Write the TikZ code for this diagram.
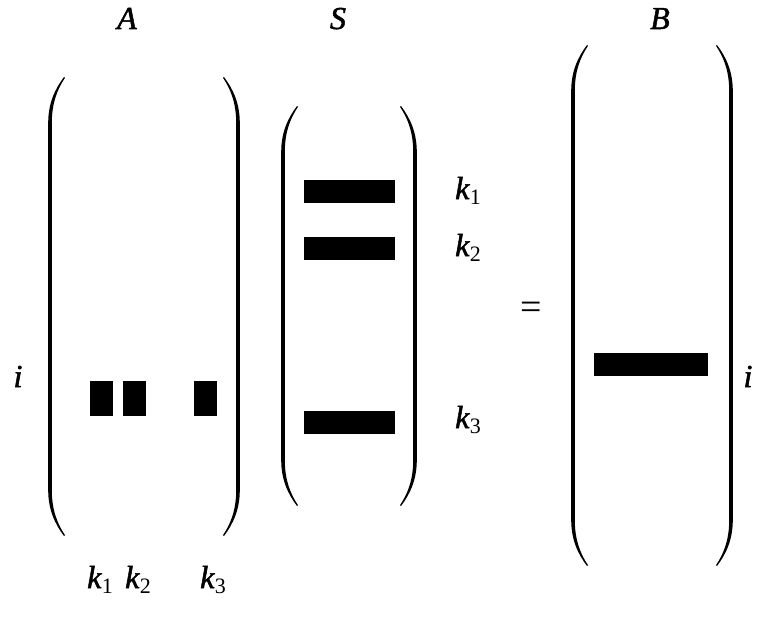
\documentclass[tikz,border=0pt]{standalone}
\usepackage{fontspec}
\setmainfont{Liberation Serif}[ItalicFeatures={FakeBold=1.6}]
\newcommand\ksub[2]{\textit{#1}\raisebox{-5pt}{\fontsize{22}{22}\selectfont\textup{#2}}}
% tapered round bracket: #1 = +1 (left) or -1 (right), #2 = x of the stem, #3 = top, #4 = bottom
\newcommand\mbracket[4]{%
  \fill ({#2+#1*14},{#3}) .. controls ({#2+#1*5},{#3+12}) and ({#2-#1*1.8},{#3+26}) .. ({#2-#1*1.8},{#3+46})
    -- ({#2-#1*1.8},{#4-46}) .. controls ({#2-#1*1.8},{#4-26}) and ({#2+#1*5},{#4-12}) .. ({#2+#1*14},{#4})
    -- ({#2+#1*15},{#4-0.8}) .. controls ({#2+#1*6.8},{#4-13}) and ({#2+#1*1.8},{#4-27}) .. ({#2+#1*1.8},{#4-46})
    -- ({#2+#1*1.8},{#3+46}) .. controls ({#2+#1*1.8},{#3+27}) and ({#2+#1*6.8},{#3+13}) .. ({#2+#1*15},{#3+0.8})
    -- cycle;}
\begin{document}
\begin{tikzpicture}[x=1pt,y=-1pt,
  lbl/.style={inner sep=0pt,font=\fontsize{32}{36}\selectfont},
  blk/.style={fill=black}]
\useasboundingbox (0,0) rectangle (758,618);
% titles
\node[lbl,anchor=base] (tA) at (127,29) {\textit{A}};
\node[lbl,anchor=base] (tS) at (338,29) {\textit{S}};
\node[lbl,anchor=base] (tB) at (660,29) {\textit{B}};
% brackets
\mbracket{1}{50}{77}{536}
\mbracket{-1}{238}{77}{536}
\mbracket{1}{283}{106}{506}
\mbracket{-1}{415}{106}{506}
\mbracket{1}{573}{45}{566}
\mbracket{-1}{731}{45}{566}
% blocks of A
\fill[blk] (90,381) rectangle (113,416);
\fill[blk] (123,381) rectangle (146,416);
\fill[blk] (194,381) rectangle (217,416);
% rows of S
\fill[blk] (304,180) rectangle (395,203);
\fill[blk] (304,237) rectangle (395,260);
\fill[blk] (304,411) rectangle (395,434);
% row of B
\fill[blk] (594,353) rectangle (708,376);
% labels
\node[lbl,anchor=base] (iA) at (18,387) {\textit{i}};
\node[lbl,anchor=base] (iB) at (748,387) {\textit{i}};
\node[lbl,anchor=base west] (s1) at (455,199) {\ksub{k}{1}};
\node[lbl,anchor=base west] (s2) at (455,256) {\ksub{k}{2}};
\node[lbl,anchor=base west] (s3) at (455,428) {\ksub{k}{3}};
\node[lbl,anchor=base west] (a1) at (87,588) {\ksub{k}{1}};
\node[lbl,anchor=base west] (a2) at (125,588) {\ksub{k}{2}};
\node[lbl,anchor=base west] (a3) at (200,588) {\ksub{k}{3}};
\node[inner sep=0pt,font=\fontsize{38}{40}\selectfont] (eq) at (531,311) {=};
\end{tikzpicture}
\end{document}
